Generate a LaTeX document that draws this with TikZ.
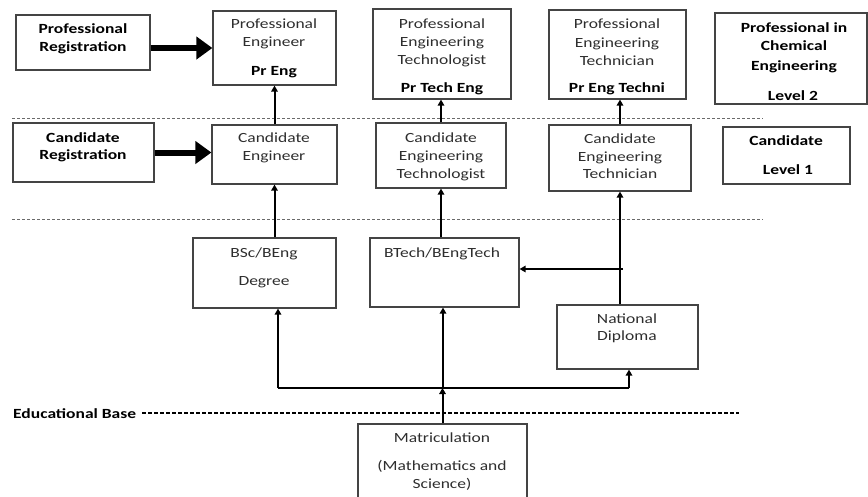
\documentclass[tikz,border=0pt]{standalone}
\usepackage{fontspec}
\setmainfont{Carlito}[FakeStretch=1.25]
\usetikzlibrary{arrows.meta}
\definecolor{txtgray}{HTML}{2E2E2E}
\definecolor{boxgray}{HTML}{444444}
\definecolor{dashgray}{HTML}{6A6A6A}
\begin{document}
\begin{tikzpicture}[x=1pt,y=-1pt,
 box/.style={draw=boxgray, line width=1.2pt, inner sep=0pt, rectangle},
 t/.style={anchor=base, inner sep=0pt, text=txtgray, font=\fontsize{14}{17}\selectfont},
 tb/.style={anchor=base, inner sep=0pt, text=black, font=\fontsize{14}{17}\selectfont\bfseries},
 arr/.style={line width=2pt, -{Triangle[length=6pt,width=6.5pt]}},
 bigarr/.style={line width=6pt, -{Triangle[length=16pt,width=22pt]}},
 sep/.style={dashgray, line width=0.8pt, dash pattern=on 3pt off 2pt},
 ]
\useasboundingbox (0,0) rectangle (868,496);
\clip (0,0) rectangle (868,496);

% boxes
\node[box, minimum width=134pt, minimum height=55pt] (pr)   at (83,42.5) {};
\node[box, minimum width=123pt, minimum height=74pt] (pe)   at (274.5,48) {};
\node[box, minimum width=138pt, minimum height=90pt] (pet)  at (442,54) {};
\node[box, minimum width=137pt, minimum height=89pt] (petn) at (617.5,54.5) {};
\node[box, minimum width=152pt, minimum height=91pt] (pce)  at (791,58.5) {};
\node[box, minimum width=141pt, minimum height=59pt] (cr)   at (83.5,152.5) {};
\node[box, minimum width=125pt, minimum height=59pt] (ce)   at (274.5,154.5) {};
\node[box, minimum width=130pt, minimum height=65pt] (cet)  at (441,155.5) {};
\node[box, minimum width=142pt, minimum height=66pt] (cetn) at (620,158) {};
\node[box, minimum width=127pt, minimum height=57pt] (cl)   at (786.5,155.5) {};
\node[box, minimum width=143pt, minimum height=70pt] (bsc)  at (264.5,273) {};
\node[box, minimum width=149pt, minimum height=69pt] (bt)   at (444.5,272.5) {};
\node[box, minimum width=141pt, minimum height=64pt] (nd)   at (627.5,337) {};
\node[box, minimum width=169pt, minimum height=80pt] (mat)  at (442.5,464) {};

% texts
\node[tb] (pr1) at (83,33) {Professional};
\node[tb] (pr2) at (83,51) {Registration};
\node[t]  (pe1) at (274,28) {Professional};
\node[t]  (pe2) at (274,46) {Engineer};
\node[tb] (pe3) at (274,75) {Pr Eng};
\node[t]  (pt1) at (442,28) {Professional};
\node[t]  (pt2) at (442,46) {Engineering};
\node[t]  (pt3) at (442,64) {Technologist};
\node[tb] (pt4) at (442,92) {Pr Tech Eng};
\node[t]  (pn1) at (617,28) {Professional};
\node[t]  (pn2) at (617,47) {Engineering};
\node[t]  (pn3) at (617,65) {Technician};
\node[tb] (pn4) at (617,92) {Pr Eng Techni};
\node[tb] (pc1) at (794,32) {Professional in};
\node[tb] (pc2) at (794,50) {Chemical};
\node[tb] (pc3) at (794,70) {Engineering};
\node[tb] (pc4) at (793,100) {Level 2};
\node[tb] (cr1) at (83,142) {Candidate};
\node[tb] (cr2) at (83,159) {Registration};
\node[t]  (ce1) at (274,142) {Candidate};
\node[t]  (ce2) at (274,160) {Engineer};
\node[t]  (ct1) at (441,142) {Candidate};
\node[t]  (ct2) at (441,160) {Engineering};
\node[t]  (ct3) at (441,178) {Technologist};
\node[t]  (cn1) at (620,143) {Candidate};
\node[t]  (cn2) at (620,161) {Engineering};
\node[t]  (cn3) at (620,178) {Technician};
\node[tb] (cl1) at (786,145) {Candidate};
\node[tb] (cl2) at (788,174) {Level 1};
\node[t]  (bs1) at (264,257) {BSc/BEng};
\node[t]  (bs2) at (264,285) {Degree};
\node[t]  (bt1) at (442,257) {BTech/BEngTech};
\node[t]  (nd1) at (627,323) {National};
\node[t]  (nd2) at (627,340) {Diploma};
\node[t]  (ma1) at (442,442) {Matriculation};
\node[t]  (ma2) at (442,470) {(Mathematics and};
\node[t]  (ma3) at (442,488) {Science)};

% separators
\draw[sep] (12,118) -- (763,118);
\draw[sep] (12,219) -- (763,219);
\node[tb, anchor=base west] (eb) at (13,418) {Educational Base};
\draw[black, line width=1.5pt, dash pattern=on 4pt off 2pt] ([xshift=6pt]eb.east |- 0,413) -- (739,413);

% thick arrows
\draw[bigarr] (pr.east |- pe.west) -- (pe.west);
\draw[bigarr] (cr.east) -- (cr.east -| ce.west);

% vertical arrows
\draw[arr] (ce.north) -- (ce.north |- pe.south);
\draw[arr] (cet.north) -- (cet.north |- pet.south);
\draw[arr] (cetn.north) -- (cetn.north |- petn.south);
\draw[arr] (bsc.north -| ce.south) -- (ce.south);
\draw[arr] (bt.north -| cet.south) -- (cet.south);
\draw[arr] (nd.north -| cetn.south) -- (cetn.south);
\coordinate (br) at ([xshift=3pt]cetn.south |- 0,269);
\draw[arr] (br) -- (br -| bt.east);

% bottom distribution
\coordinate (hl) at (278,388);
\coordinate (hr) at (629,388);
\draw[line width=2pt] (hl) -- (hr);
\draw[arr] (hl) -- (hl |- bsc.south);
\draw[arr] (hl -| 443,0) -- (bt.south -| 443,0);
\draw[arr] (hr) -- (hr |- nd.south);
\draw[arr] (mat.north) -- (mat.north |- hl);
\end{tikzpicture}
\end{document}
